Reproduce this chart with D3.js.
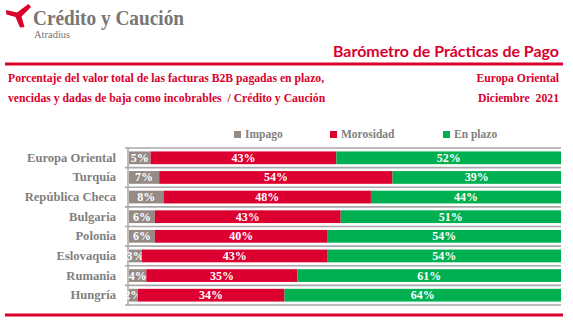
<!DOCTYPE html>
<html>
<head>
<meta charset="utf-8">
<script src="https://cdn.jsdelivr.net/npm/d3@7"></script>
<style>
  body { margin: 0; background: #fff; }
  svg { display: block; }
</style>
</head>
<body>
<svg id="chart" width="573" height="331"></svg>
<script>
const countries = ['Europa Oriental', 'Turquía', 'República Checa', 'Bulgaria', 'Polonia', 'Eslovaquia', 'Rumania', 'Hungría'];
const impago = [5, 7, 8, 6, 6, 3, 4, 2];
const morosidad = [43, 54, 48, 43, 40, 43, 35, 34];
const enPlazo = [52, 39, 44, 51, 54, 54, 61, 64];
const seriesNames = ['Impago', 'Morosidad', 'En plazo'];
const seriesKeys = ['impago', 'morosidad', 'enPlazo'];

const RED = '#d9002b';
const GREY_TXT = '#7f7f7f';
const colors = { impago: '#978a85', morosidad: '#dc0030', enPlazo: '#00b050' };
const serif = '"Liberation Serif", "DejaVu Serif", serif';

const svg = d3.select('#chart');

// logo mark
svg.append('path')
  .attr('d', 'M6,10 L17,12.5 L28.5,4 L31,7 L21.5,16.5 L24.5,27 L20,27.5 L15.5,17 L6.5,14.5 Z')
  .attr('fill', RED);
svg.append('text')
  .attr('x', 33).attr('y', 24.5)
  .attr('font-family', serif).attr('font-weight', 'bold').attr('font-size', 21)
  .attr('fill', '#767676')
  .attr('textLength', 151).attr('lengthAdjust', 'spacingAndGlyphs')
  .text('Crédito y Caución');
svg.append('text')
  .attr('x', 34).attr('y', 38)
  .attr('font-family', serif).attr('font-size', 10.5)
  .attr('fill', '#767676')
  .text('Atradius');

// header
svg.append('text')
  .attr('x', 559).attr('y', 57)
  .attr('text-anchor', 'end')
  .attr('font-family', 'Lato, "Open Sans", sans-serif').attr('font-weight', 'bold').attr('font-size', 16)
  .attr('fill', RED)
  .attr('textLength', 226).attr('lengthAdjust', 'spacingAndGlyphs')
  .text('Barómetro de Prácticas de Pago');

svg.append('rect').attr('x', 5).attr('y', 62.5).attr('width', 558).attr('height', 3).attr('fill', RED);
svg.append('rect').attr('x', 5).attr('y', 313.5).attr('width', 558).attr('height', 3).attr('fill', RED);

const subLeft = [
  'Porcentaje del valor total de las facturas B2B pagadas en plazo,',
  'vencidas y dadas de baja como incobrables  / Crédito y Caución'
];
const subRight = ['Europa Oriental', 'Diciembre  2021'];

svg.selectAll('.subL').data(subLeft).join('text')
  .attr('class', 'subL')
  .attr('x', 8).attr('y', (d, i) => 81.5 + i * 20)
  .attr('font-family', serif).attr('font-weight', 'bold').attr('font-size', 11.7)
  .attr('fill', RED)
  .attr('xml:space', 'preserve')
  .text(d => d);

svg.selectAll('.subR').data(subRight).join('text')
  .attr('class', 'subR')
  .attr('x', 559).attr('y', (d, i) => 81.5 + i * 20)
  .attr('text-anchor', 'end')
  .attr('font-family', serif).attr('font-weight', 'bold').attr('font-size', 11.7)
  .attr('fill', RED)
  .attr('xml:space', 'preserve')
  .text(d => d);

// legend
const legendX = [234, 330, 443];
const legend = svg.selectAll('.legend').data(seriesNames).join('g')
  .attr('class', 'legend')
  .attr('transform', (d, i) => `translate(${legendX[i]},131)`);
legend.append('rect')
  .attr('width', 7).attr('height', 7)
  .attr('fill', (d, i) => colors[seriesKeys[i]]);
legend.append('text')
  .attr('x', 11).attr('y', 7)
  .attr('font-family', serif).attr('font-weight', 'bold').attr('font-size', 11.5)
  .attr('fill', GREY_TXT)
  .text(d => d);

// bars
const rows = countries.map((c, i) => ({
  country: c, impago: impago[i], morosidad: morosidad[i], enPlazo: enPlazo[i]
}));

const x = d3.scaleLinear().domain([0, 100]).range([129, 561]);
const y = d3.scaleBand().domain(countries).range([148, 305])
  .paddingInner(0.35).paddingOuter(0.175);

const stack = d3.stack().keys(seriesKeys)(rows);

// row separators
const step = y.step();
const seps = d3.range(countries.length + 1).map(i => 148 + i * step);
svg.selectAll('.sep').data(seps).join('line')
  .attr('class', 'sep')
  .attr('x1', 125).attr('x2', 561)
  .attr('y1', d => d).attr('y2', d => d)
  .attr('stroke', '#a8a8a8').attr('stroke-width', 1.6);
svg.append('line')
  .attr('x1', 128).attr('x2', 128)
  .attr('y1', 147).attr('y2', 306)
  .attr('stroke', '#a8a8a8').attr('stroke-width', 1.5);

const layers = svg.selectAll('.layer').data(stack).join('g')
  .attr('class', 'layer')
  .attr('fill', d => colors[d.key]);

layers.selectAll('rect').data(d => d).join('rect')
  .attr('x', d => x(d[0]))
  .attr('y', d => y(d.data.country))
  .attr('width', d => x(d[1]) - x(d[0]))
  .attr('height', y.bandwidth());

layers.selectAll('text').data(d => d).join('text')
  .attr('x', d => (x(d[0]) + x(d[1])) / 2)
  .attr('y', d => y(d.data.country) + y.bandwidth() / 2 + 4)
  .attr('text-anchor', 'middle')
  .attr('font-family', serif).attr('font-weight', 'bold').attr('font-size', 12)
  .attr('fill', '#fff')
  .text(d => (d[1] - d[0]) + '%');

// category labels
svg.selectAll('.cat').data(countries).join('text')
  .attr('class', 'cat')
  .attr('x', 116)
  .attr('y', d => y(d) + y.bandwidth() / 2 + 4)
  .attr('text-anchor', 'end')
  .attr('font-family', serif).attr('font-weight', 'bold').attr('font-size', 12.6)
  .attr('fill', GREY_TXT)
  .text(d => d);
</script>
</body>
</html>
